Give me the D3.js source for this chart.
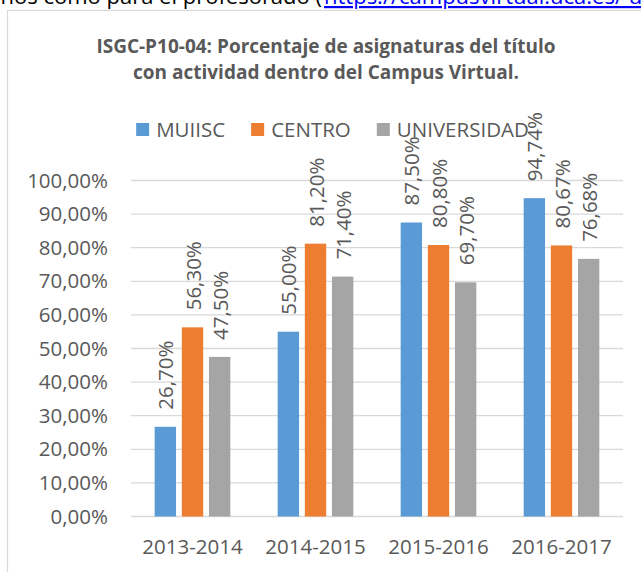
<!DOCTYPE html>
<html>
<head>
<meta charset="utf-8">
<script src="https://cdn.jsdelivr.net/npm/d3@7"></script>
<style>
  body { margin: 0; background: #fff; }
  svg { display: block; font-family: "Open Sans", sans-serif; }
</style>
</head>
<body>
<div id="chart"></div>
<script>
// data
var categories = ['2013-2014', '2014-2015', '2015-2016', '2016-2017'];
var seriesNames = ['MUIISC', 'CENTRO', 'UNIVERSIDAD'];
var muiisc = [26.70, 55.00, 87.50, 94.74];
var centro = [56.30, 81.20, 80.80, 80.67];
var universidad = [47.50, 71.40, 69.70, 76.68];
var yTicks = [0, 10, 20, 30, 40, 50, 60, 70, 80, 90, 100];
var titleLines = ['ISGC-P10-04: Porcentaje de asignaturas del título',
                  'con actividad dentro del Campus Virtual.'];

var colors = {MUIISC: '#5B9BD5', CENTRO: '#ED7D31', UNIVERSIDAD: '#A5A5A5'};

var rows = categories.map((c, i) => ({
  cat: c,
  MUIISC: muiisc[i],
  CENTRO: centro[i],
  UNIVERSIDAD: universidad[i]
}));

var width = 641,
    height = 572,
    plot = {left: 131, right: 623, top: 180.5, bottom: 516.5},
    textColor = '#595959',
    gridColor = '#D9D9D9';

var fmt = v => v.toFixed(2).replace('.', ',') + '%';

var svg = d3.select('#chart')
  .append('svg')
  .attr('width', width)
  .attr('height', height);

// text of the page above the chart, mostly cut off at the top
svg.append('text')
  .attr('x', 322).attr('y', 4)
  .attr('text-anchor', 'end')
  .attr('fill', '#000')
  .style('font-size', '22px')
  .text('alumnos como para el profesorado (');
svg.append('text')
  .attr('x', 324).attr('y', 4)
  .style('font-size', '22px')
  .attr('fill', '#0000FF')
  .style('text-decoration', 'underline')
  .text('https://campusvirtual.uca.es/ uca');

// chart frame (runs past the right and bottom edge)
svg.append('rect')
  .attr('x', 7.5).attr('y', 10.5)
  .attr('width', 700).attr('height', 600)
  .attr('fill', '#fff')
  .attr('stroke', gridColor)
  .attr('stroke-width', 1.2);

// title
svg.append('g').selectAll('text')
  .data(titleLines)
  .enter().append('text')
  .attr('x', 326)
  .attr('y', (d, i) => 52.5 + i * 26)
  .attr('text-anchor', 'middle')
  .attr('fill', textColor)
  .style('font-size', '19px')
  .style('font-weight', 'bold')
  .text(d => d);

var x0 = d3.scaleBand()
  .domain(categories)
  .range([plot.left, plot.right])
  .paddingInner(0.385)
  .paddingOuter(0.1925);

var x1 = d3.scaleBand()
  .domain(seriesNames)
  .range([0, x0.bandwidth()])
  .paddingInner(0.213);

var y = d3.scaleLinear()
  .domain([0, 100])
  .range([plot.bottom, plot.top]);

// gridlines
svg.append('g')
  .selectAll('line')
  .data(yTicks)
  .enter().append('line')
  .attr('x1', plot.left).attr('x2', plot.right)
  .attr('y1', d => y(d)).attr('y2', d => y(d))
  .attr('stroke', gridColor)
  .attr('stroke-width', 1.3);

// y axis labels
var yAxis = d3.axisLeft(y)
  .tickValues(yTicks)
  .tickFormat(fmt)
  .tickSize(0)
  .tickPadding(23);
var yg = svg.append('g')
  .attr('transform', `translate(${plot.left},0)`)
  .call(yAxis);
yg.select('.domain').remove();
yg.selectAll('text')
  .attr('fill', textColor)
  .style('font-size', '20.5px')
  .style('font-family', '"Open Sans", sans-serif');

// x axis labels
var xAxis = d3.axisBottom(x0).tickSize(0).tickPadding(0);
var xg = svg.append('g')
  .attr('transform', `translate(0,${plot.bottom})`)
  .call(xAxis);
xg.select('.domain').remove();
xg.selectAll('text')
  .attr('y', 37.5)
  .attr('dy', null)
  .attr('fill', textColor)
  .style('font-size', '20.5px')
  .style('font-family', '"Open Sans", sans-serif');

// bars
var groups = svg.selectAll('.cat')
  .data(rows)
  .enter().append('g')
  .attr('class', 'cat')
  .attr('transform', d => `translate(${x0(d.cat)},0)`);

groups.selectAll('rect')
  .data(d => seriesNames.map(s => ({s: s, v: d[s]})))
  .enter().append('rect')
  .attr('x', d => x1(d.s))
  .attr('y', d => y(d.v))
  .attr('width', x1.bandwidth())
  .attr('height', d => plot.bottom - y(d.v))
  .attr('fill', d => colors[d.s]);

// rotated value labels
groups.selectAll('text.val')
  .data(d => seriesNames.map(s => ({s: s, v: d[s]})))
  .enter().append('text')
  .attr('class', 'val')
  .attr('transform', d => `translate(${x1(d.s) + x1.bandwidth() / 2},${y(d.v) - 17}) rotate(-90)`)
  .attr('dominant-baseline', 'central')
  .attr('fill', textColor)
  .style('font-size', '20.5px')
  .text(d => fmt(d.v));

// legend
var legend = svg.append('g').attr('transform', 'translate(0,137)');
var items = legend.selectAll('g')
  .data(seriesNames)
  .enter().append('g');
items.append('rect')
  .attr('y', -14).attr('width', 13).attr('height', 13)
  .attr('fill', d => colors[d]);
items.append('text')
  .attr('x', 20)
  .attr('fill', textColor)
  .style('font-size', '20.5px')
  .text(d => d);
var offset = 0, pos = [];
items.each(function() {
  pos.push(offset);
  offset += 20 + d3.select(this).select('text').node().getComputedTextLength() + 26;
});
var total = offset - 26, start = 332.5 - total / 2;
items.attr('transform', (d, i) => `translate(${start + pos[i]},0)`);
</script>
</body>
</html>
